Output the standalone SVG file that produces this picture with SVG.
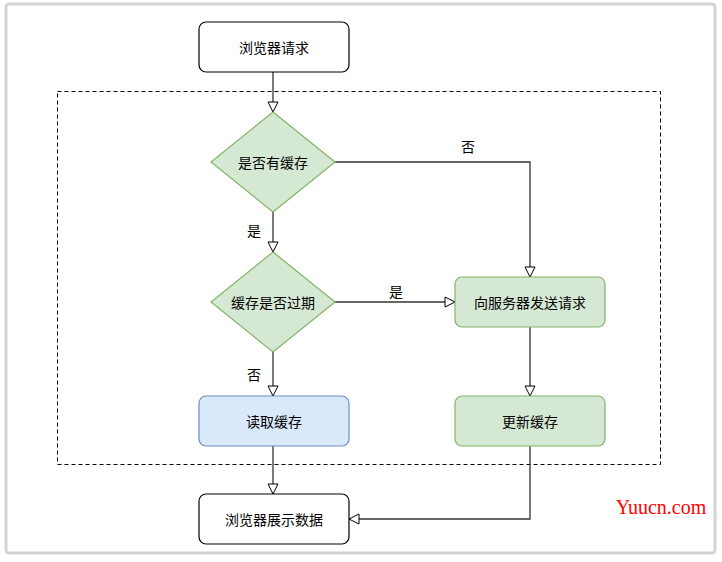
<svg xmlns="http://www.w3.org/2000/svg" width="722" height="562" viewBox="0 0 722 562">
<defs>
<marker id="arr" viewBox="0 0 12 12" refX="11" refY="6" markerWidth="12" markerHeight="12" markerUnits="userSpaceOnUse" orient="auto">
<path d="M1,1 L11,6 L1,11 Z" fill="#ffffff" stroke="#000000" stroke-width="1"/>
</marker>
</defs>
<style>
text{font-family:"Noto Sans CJK SC","Liberation Sans",sans-serif;font-size:14px;fill:#000;text-anchor:middle;dominant-baseline:central}
.w{fill:#ffffff;stroke:#000000;stroke-width:1.2}
.g{fill:#d5e8d4;stroke:#82b366;stroke-width:1.2}
.b{fill:#dae8fc;stroke:#6c8ebf;stroke-width:1.2}
.c{fill:none;stroke:#333333;stroke-width:1.3}
</style>
<rect x="0" y="0" width="722" height="562" fill="#ffffff"/>
<rect x="6" y="4" width="709" height="549" rx="3" fill="#ffffff" stroke="#d4d4d4" stroke-width="3"/>
<rect x="57.5" y="91.5" width="603" height="373" fill="none" stroke="#000000" stroke-width="1" stroke-dasharray="4,3"/>
<g id="connectors">
<path class="c" d="M273,72 L273,112" marker-end="url(#arr)"/>
<path class="c" d="M335,162 L530,162 L530,277" marker-end="url(#arr)"/>
<path class="c" d="M273,212 L273,252" marker-end="url(#arr)"/>
<path class="c" d="M335,302 L455,302" marker-end="url(#arr)"/>
<path class="c" d="M273,352 L273,396" marker-end="url(#arr)"/>
<path class="c" d="M530,327 L530,396" marker-end="url(#arr)"/>
<path class="c" d="M273,446 L273,494" marker-end="url(#arr)"/>
<path class="c" d="M530,446 L530,519 L349,519" marker-end="url(#arr)"/>
<text x="468" y="146">否</text>
<text x="254" y="230">是</text>
<text x="396" y="291">是</text>
<text x="254" y="374">否</text>
</g>
<g id="n1"><rect class="w" x="199" y="22" width="150" height="50" rx="7"/><text x="274" y="47">浏览器请求</text></g>
<g id="n2"><path class="g" d="M273,112 L335,162 L273,212 L211,162 Z"/><text x="273" y="162">是否有缓存</text></g>
<g id="n3"><path class="g" d="M273,252 L335,302 L273,352 L211,302 Z"/><text x="273" y="302">缓存是否过期</text></g>
<g id="n4"><rect class="g" x="455" y="277" width="150" height="50" rx="7"/><text x="530" y="302">向服务器发送请求</text></g>
<g id="n5"><rect class="b" x="199" y="396" width="150" height="50" rx="7"/><text x="274" y="421">读取缓存</text></g>
<g id="n6"><rect class="g" x="455" y="396" width="150" height="50" rx="7"/><text x="530" y="421">更新缓存</text></g>
<g id="n7"><rect class="w" x="199" y="494" width="150" height="50" rx="7"/><text x="274" y="519">浏览器展示数据</text></g>
<text x="661" y="507" style="font-family:'Liberation Serif',serif;font-size:20px;fill:#ff0000">Yuucn.com</text>
</svg>
